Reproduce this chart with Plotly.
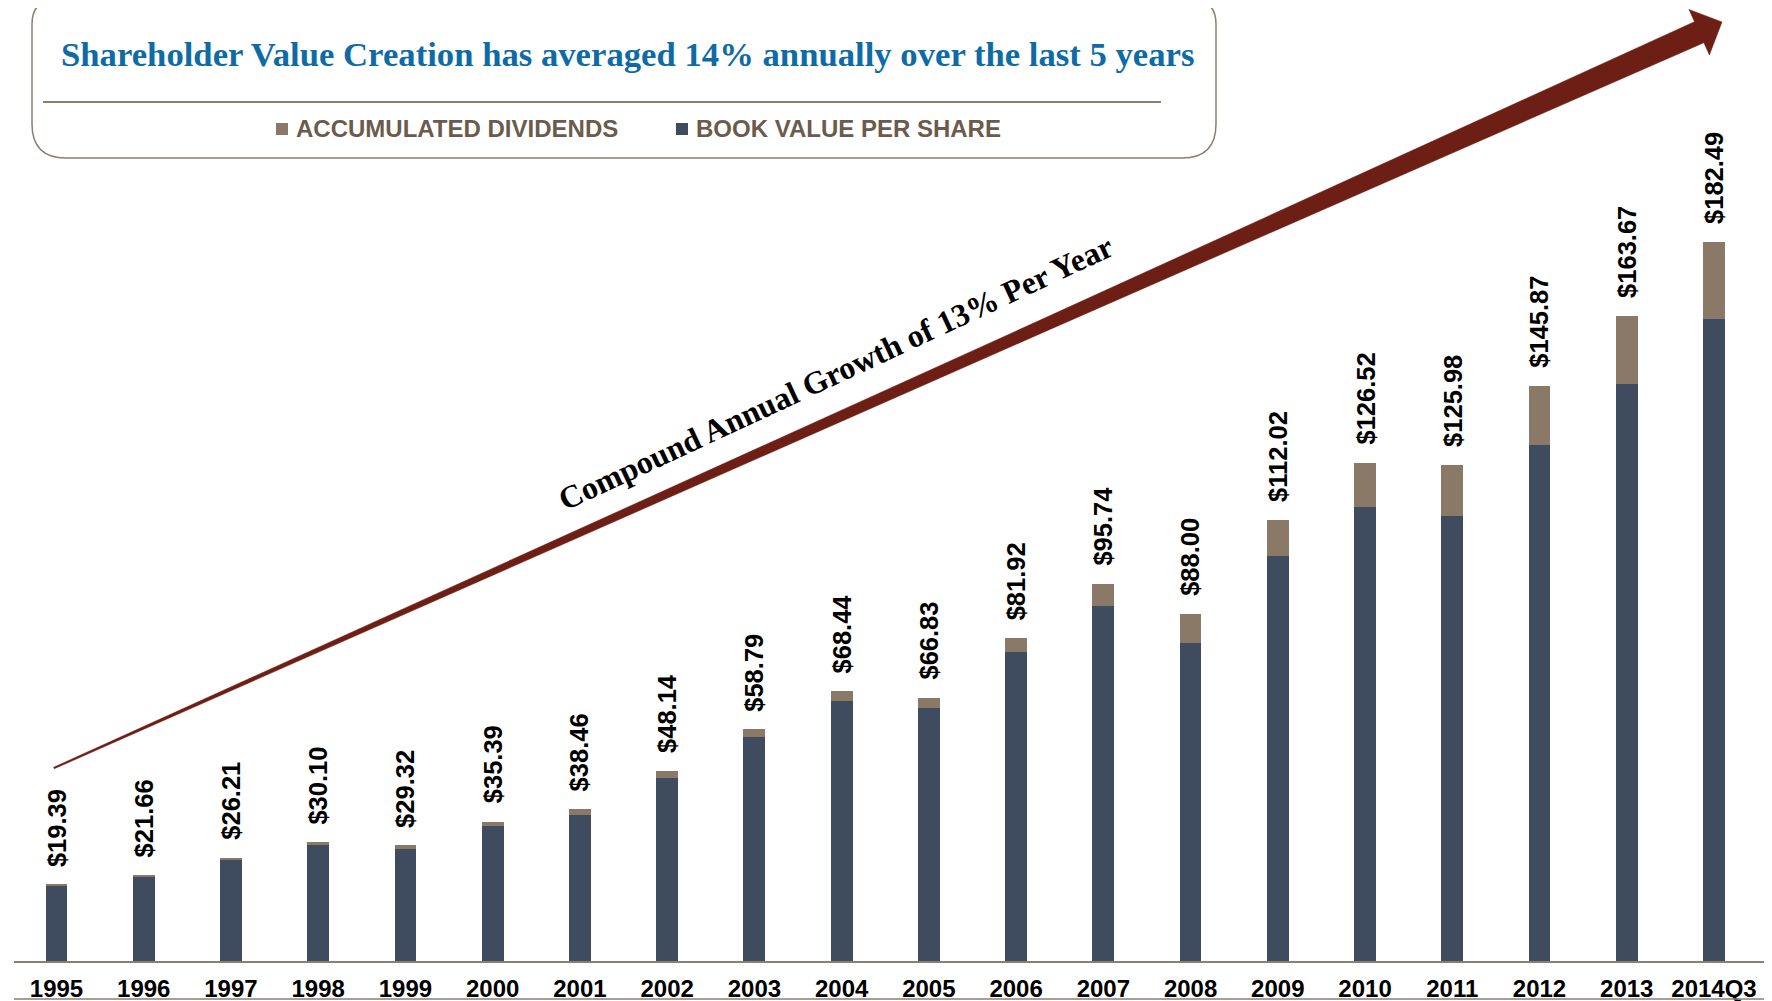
import math
import plotly.graph_objects as go

# categories and values
years = ["1995", "1996", "1997", "1998", "1999", "2000", "2001", "2002", "2003", "2004",
         "2005", "2006", "2007", "2008", "2009", "2010", "2011", "2012", "2013", "2014Q3"]
totals = [19.39, 21.66, 26.21, 30.10, 29.32, 35.39, 38.46, 48.14, 58.79, 68.44,
          66.83, 81.92, 95.74, 88.00, 112.02, 126.52, 125.98, 145.87, 163.67, 182.49]
dividends = [0.15, 0.3, 0.45, 0.6, 0.85, 1.2, 1.45, 1.7, 2.0, 2.4,
             2.7, 3.4, 5.6, 7.4, 9.3, 11.2, 13.1, 14.9, 17.3, 19.5]
book_value = [round(t - d, 2) for t, d in zip(totals, dividends)]

title_text = "Shareholder Value Creation has averaged 14% annually over the last 5 years"
cagr_text = "Compound Annual Growth of 13% Per Year"
legend_names = ["ACCUMULATED DIVIDENDS", "BOOK VALUE PER SHARE"]

BOOK = "#3F4C60"
DIV = "#8A7967"
ARROW = "#6D1F15"
BLUE = "#0F6BA6"
BROWN_TXT = "#6B5B4D"
BORDER = "#8C7E70"

# page body adds an 8px margin, so the figure is drawn 8px smaller
OFF = 8
W, H = 1772 - OFF, 1001 - OFF
ML, MR, MT, MB = 6, 0, 0, 40
PW, PH = W - ML - MR, H - MT - MB


def px(x):
    # window pixel -> paper x
    return (x - OFF - ML) / PW


def py(y):
    # window pixel -> paper y
    return 1 - (y - OFF - MT) / PH


fig = go.Figure()
fig.add_trace(go.Bar(x=years, y=book_value, name=legend_names[1], marker_color=BOOK,
                     marker_line_width=0, width=0.25, showlegend=False))
fig.add_trace(go.Bar(x=years, y=dividends, name=legend_names[0], marker_color=DIV,
                     marker_line_width=0, width=0.25, showlegend=False))

# value labels above each stack
annotations = []
for i, t in enumerate(totals):
    annotations.append(dict(x=i, y=t, xref="x", yref="y", text=f"<b>${t:.2f}</b>", textangle=-90,
                            showarrow=False, xanchor="center", yanchor="bottom", yshift=16,
                            font=dict(family="Liberation Sans, Arial", size=25.5, color="black")))

# title box contents
annotations.append(dict(x=px(628), y=py(55), xref="paper", yref="paper", text=f"<b>{title_text}</b>",
                        showarrow=False, xanchor="center", yanchor="middle",
                        font=dict(family="Liberation Serif, Times New Roman", size=34.7, color=BLUE)))
annotations.append(dict(x=px(294), y=py(129), xref="paper", yref="paper", text=f"<b>{legend_names[0]}</b>",
                        showarrow=False, xanchor="left", yanchor="middle",
                        font=dict(family="Liberation Sans, Arial", size=24, color=BROWN_TXT)))
annotations.append(dict(x=px(694), y=py(129), xref="paper", yref="paper", text=f"<b>{legend_names[1]}</b>",
                        showarrow=False, xanchor="left", yanchor="middle",
                        font=dict(family="Liberation Sans, Arial", size=24, color=BROWN_TXT)))
annotations.append(dict(x=px(835), y=py(373), xref="paper", yref="paper", text=f"<b>{cagr_text}</b>",
                        showarrow=False, textangle=-25, xanchor="center", yanchor="middle",
                        font=dict(family="Liberation Serif, Times New Roman", size=32, color="black")))

shapes = []
# rounded title box (its top edge sits at the page edge)
x0, x1, y0, y1, r = 32, 1216, 0, 158, 34
rt = 24
box = (f"M {px(x0 + rt)},{py(y0)} Q {px(x0)},{py(y0)} {px(x0)},{py(y0 + rt)} "
       f"L {px(x0)},{py(y1 - r)} "
       f"Q {px(x0)},{py(y1)} {px(x0 + r)},{py(y1)} L {px(x1 - r)},{py(y1)} "
       f"Q {px(x1)},{py(y1)} {px(x1)},{py(y1 - r)} L {px(x1)},{py(y0 + rt)} "
       f"Q {px(x1)},{py(y0)} {px(x1 - rt)},{py(y0)} Z")
shapes.append(dict(type="path", path=box, xref="paper", yref="paper",
                   line=dict(color=BORDER, width=1.5)))
shapes.append(dict(type="line", xref="paper", yref="paper", x0=px(43), x1=px(1161), y0=py(102), y1=py(102),
                   line=dict(color=BORDER, width=2)))
# legend squares
for sx, c in [(276, DIV), (676, BOOK)]:
    shapes.append(dict(type="rect", xref="paper", yref="paper", x0=px(sx), x1=px(sx + 12),
                       y0=py(123), y1=py(135), fillcolor=c, line_width=0))
# bottom rule
shapes.append(dict(type="line", xref="paper", yref="paper", x0=px(14), x1=1, y0=py(999), y1=py(999),
                   line=dict(color=BORDER, width=1.5)))

# tapered growth arrow
S = (54, 768)
T = (1722, 22)
L = math.hypot(T[0] - S[0], T[1] - S[1])
u = ((T[0] - S[0]) / L, (T[1] - S[1]) / L)
n = (-u[1], u[0])
Hb = (T[0] - 25 * u[0], T[1] - 25 * u[1])
Mid = (S[0] + 0.6 * (Hb[0] - S[0]), S[1] + 0.6 * (Hb[1] - S[1]))
w0, wm, w1, hw = 0.8, 6.2, 11.5, 25


def pt(p, k):
    return (p[0] + n[0] * k, p[1] + n[1] * k)


poly = [pt(S, w0), pt(Mid, wm), pt(Hb, w1), pt(Hb, hw), T, pt(Hb, -hw), pt(Hb, -w1), pt(Mid, -wm), pt(S, -w0)]
path = "M " + " L ".join(f"{px(a)},{py(b)}" for a, b in poly) + " Z"
shapes.append(dict(type="path", path=path, xref="paper", yref="paper", fillcolor=ARROW,
                   line=dict(color=ARROW, width=0.5)))

fig.update_layout(
    width=W, height=H,
    margin=dict(l=ML, r=MR, t=MT, b=MB),
    barmode="stack",
    plot_bgcolor="white", paper_bgcolor="white",
    showlegend=False,
    annotations=annotations,
    shapes=shapes,
    xaxis=dict(type="category", range=[-0.487, 19.665], showgrid=False, showline=True,
               linecolor=BORDER, linewidth=2, ticks="", zeroline=False, ticklabelstandoff=5,
               tickfont=dict(family="Liberation Sans, Arial", size=24, color="black"),
               tickprefix="<b>", ticksuffix="</b>"),
    yaxis=dict(range=[0, PH / 3.94], visible=False, showgrid=False, zeroline=False),
)

fig.write_html("out.html")
